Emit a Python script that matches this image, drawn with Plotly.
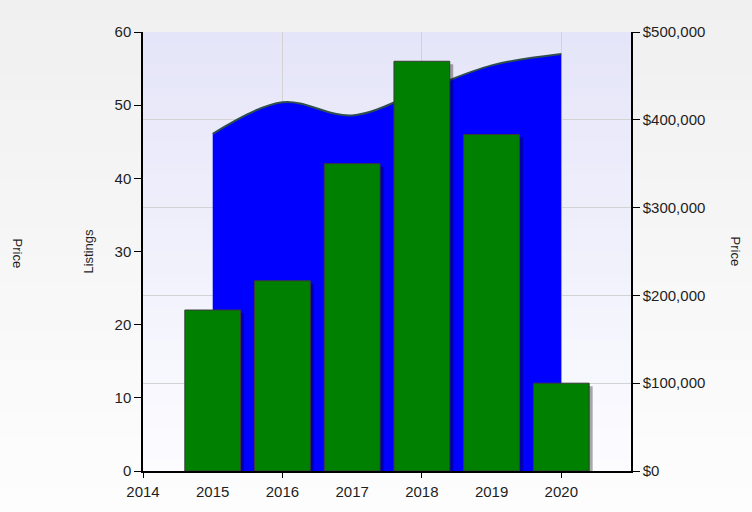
import plotly.graph_objects as go

# ---- data ---------------------------------------------------------------
years = [2015, 2016, 2017, 2018, 2019, 2020]
listings = [22, 26, 42, 56, 46, 12]
prices = [384000, 420000, 405000, 433000, 462000, 475000]
x_labels = [2014, 2015, 2016, 2017, 2018, 2019, 2020]
x_marks = [2014, 2016, 2018, 2020]

FONT = "Liberation Sans, Arial, sans-serif"
INK = "#1e1e1e"
GRID = "#d3d3d3"


def _mix(c0, c1, t):
    return "rgb(%d,%d,%d)" % tuple(round(a + (b - a) * t) for a, b in zip(c0, c1))


def _stripes(n, c0, c1, xref, yref, x0, x1, y0, y1):
    out = []
    for i in range(n):
        t = i / (n - 1)
        ya = y1 - (y1 - y0) * i / n
        yb = y1 - (y1 - y0) * (i + 1) / n
        out.append(dict(type="rect", xref=xref, yref=yref, x0=x0, x1=x1,
                        y0=yb - 0.002, y1=ya, layer="below", line_width=0,
                        fillcolor=_mix(c0, c1, t)))
    return out


fig = go.Figure()

# price area (right axis, drawn underneath)
fig.add_trace(go.Scatter(
    x=years, y=prices, mode="lines", fill="tozeroy", fillcolor="#0000ff",
    line=dict(color="#2f4f4f", width=2, shape="spline"),
    xaxis="x", yaxis="y", showlegend=False, hoverinfo="skip"))

# bar shadows + listing bars (left axis, drawn on top)
fig.add_trace(go.Bar(
    x=years, y=[v - 0.4 for v in listings], width=0.8, offset=-0.35,
    marker=dict(color="rgba(0,0,0,0.33)", line_width=0),
    xaxis="x2", yaxis="y2", showlegend=False, hoverinfo="skip"))
fig.add_trace(go.Bar(
    x=years, y=listings, width=0.8,
    marker=dict(color="#008000", line=dict(color="#3a3a3a", width=1)),
    xaxis="x2", yaxis="y2", showlegend=False))

shapes = _stripes(20, (240, 240, 240), (253, 253, 253), "paper", "paper", -0.5, 1.5, -0.1, 1.08)
shapes += _stripes(40, (229, 229, 249), (252, 252, 255), "x domain", "y domain", 0, 1, 0, 1)

axis_font = dict(family=FONT, size=15, color=INK)
title_font = dict(family=FONT, size=13, color=INK)

fig.update_layout(
    width=752, height=512, autosize=False,
    margin=dict(l=143, r=121, t=32, b=39),
    paper_bgcolor="#f4f4f4", plot_bgcolor="#f0f0fb",
    barmode="overlay", font=axis_font, shapes=shapes,
    xaxis=dict(range=[2014, 2021], tickvals=x_labels, ticktext=[str(v) for v in x_labels],
               ticks="outside", ticklen=6, tickcolor="rgba(0,0,0,0)",
               showgrid=False, zeroline=False, showline=True, linecolor="#000",
               linewidth=1.5, tickfont=axis_font, anchor="y"),
    xaxis2=dict(range=[2014, 2021], overlaying="x", tickvals=x_marks, ticks="outside",
                ticklen=6, tickcolor="#000", showticklabels=False, showgrid=True,
                gridcolor=GRID, gridwidth=1, zeroline=False, showline=False, anchor="y2"),
    yaxis=dict(range=[0, 500000], dtick=100000, side="right", tickprefix="$",
               tickformat=",", ticks="outside", ticklen=7, tickcolor="#000",
               showgrid=True, gridcolor=GRID, zeroline=False, showline=True,
               linecolor="#000", linewidth=1.5, tickfont=axis_font, anchor="x"),
    yaxis2=dict(range=[0, 60], dtick=10, side="left", overlaying="y", ticks="outside",
                ticklen=7, tickcolor="#000", showgrid=False, zeroline=False,
                showline=True, linecolor="#000", linewidth=1.5, tickfont=axis_font,
                anchor="x2"),
    annotations=[
        dict(text="Listings", xref="paper", yref="paper", x=-0.1127, y=0.50,
             xanchor="center", yanchor="middle",
             textangle=-90, showarrow=False, font=title_font),
        dict(text="Price", xref="paper", yref="paper", x=-0.258, y=0.495,
             xanchor="center", yanchor="middle",
             textangle=90, showarrow=False, font=title_font),
        dict(text="Price", xref="paper", yref="paper", x=1.215, y=0.50,
             xanchor="center", yanchor="middle",
             textangle=90, showarrow=False, font=title_font),
    ],
)

# drop the browser's default 8px body margin so the figure sits at the page corner
fig.write_html("out.html", config={"displayModeBar": False},
               post_script="document.body.style.margin='0px';")
